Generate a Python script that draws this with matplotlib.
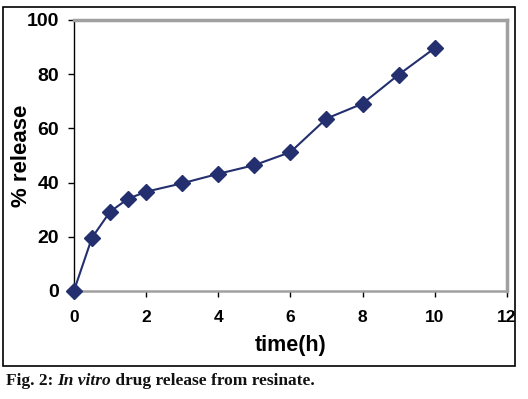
import matplotlib.pyplot as plt
from matplotlib.patches import Rectangle

time_h = [0, 0.5, 1, 1.5, 2, 3, 4, 5, 6, 7, 8, 9, 10]
release = [0, 19.6, 29.2, 34.0, 36.6, 39.7, 43.2, 46.4, 51.2, 63.6, 69.1, 79.8, 89.6]

x_ticks = [0, 2, 4, 6, 8, 10, 12]
y_ticks = [0, 20, 40, 60, 80, 100]

navy = '#232f6e'

fig = plt.figure(figsize=(5.28, 3.99), dpi=100)
fig.patches.append(Rectangle((0.006, 0.083), 0.969, 0.899, transform=fig.transFigure,
                             fill=False, edgecolor='black', linewidth=1.2))

ax = fig.add_axes([0.140, 0.271, 0.820, 0.679])
ax.plot(time_h, release, color=navy, linewidth=1.5, marker='D', markersize=8,
        markerfacecolor=navy, markeredgecolor=navy, clip_on=False, zorder=5)

ax.set_xlim(0, 12)
ax.set_ylim(0, 100)
ax.set_xticks(x_ticks)
ax.set_yticks(y_ticks)

for side in ['top', 'right']:
    ax.spines[side].set_color('#a0a0a0')
    ax.spines[side].set_linewidth(2.5)
ax.spines['bottom'].set_color('#a0a0a0')
ax.spines['bottom'].set_linewidth(1.8)
ax.spines['left'].set_color('black')
ax.spines['left'].set_linewidth(1.0)

ax.tick_params(axis='both', direction='out', length=4.5, width=1, color='black')
ax.tick_params(axis='x', pad=9)
ax.tick_params(axis='y', pad=6)
for lbl in ax.get_xticklabels():
    lbl.set_fontfamily('Liberation Sans')
    lbl.set_fontweight('bold')
    lbl.set_fontsize(12.5)
for lbl in ax.get_yticklabels():
    lbl.set_fontfamily('Liberation Sans')
    lbl.set_fontweight('bold')
    lbl.set_fontsize(14)

ax.set_xlabel('time(h)', fontfamily='Liberation Sans', fontweight='bold', fontsize=15.5, va='center')
ax.xaxis.set_label_coords(0.5, -0.2)
ax.set_ylabel('% release', fontfamily='Liberation Sans', fontweight='bold', fontsize=16, va='center')
ax.yaxis.set_label_coords(-0.122, 0.5)

# caption in three runs: regular, italic, regular
cap_y = 0.045
parts = [('Fig. 2: ', 'normal'), ('In vitro', 'italic'), (' drug release from resinate.', 'normal')]
renderer = fig.canvas.get_renderer()
x_px = 6
for txt, st in parts:
    t = fig.text(x_px / 528, cap_y, txt, fontfamily='Liberation Serif', style=st,
                 fontweight='semibold', fontsize=12.5, va='center', color='#111111')
    x_px += t.get_window_extent(renderer).width

fig.savefig('out.png', dpi=100)
